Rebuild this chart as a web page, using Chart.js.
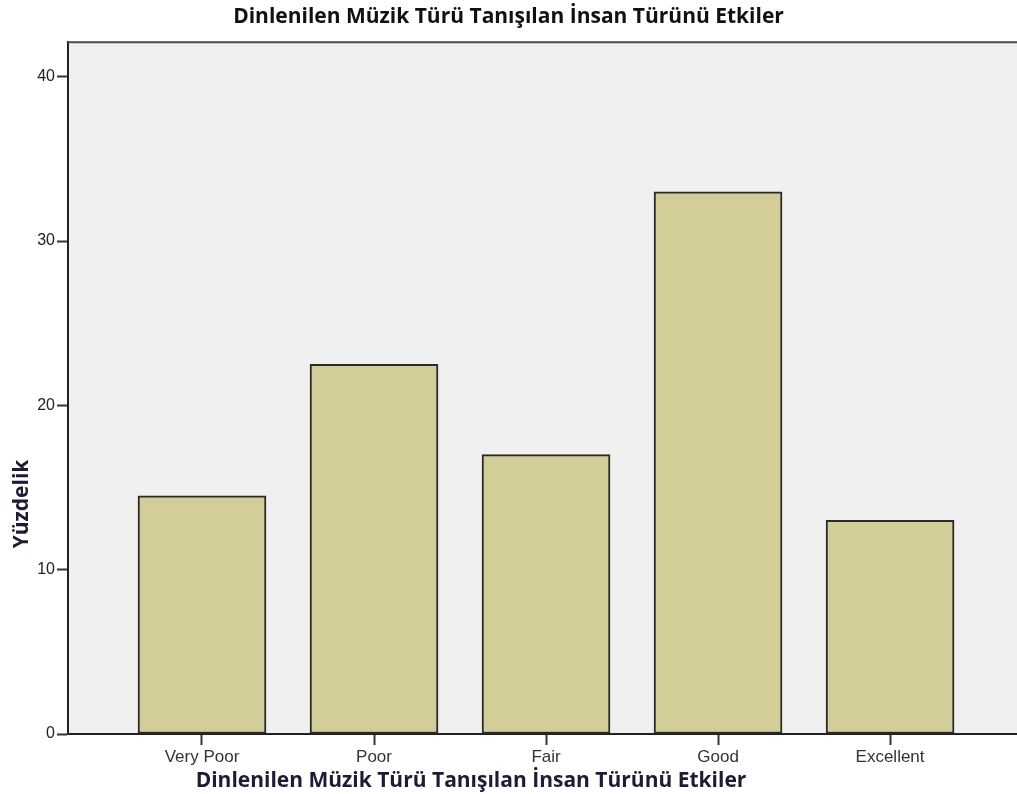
<!DOCTYPE html>
<html>
<head>
<meta charset="utf-8">
<script src="https://cdn.jsdelivr.net/npm/chart.js@4"></script>
<style>
	html, body { margin: 0; padding: 0; background: #ffffff; }
	#wrap { width: 1017px; height: 794px; }
</style>
</head>
<body>
<div id="wrap"><canvas id="chart" width="1017" height="794"></canvas></div>
<script>
var categories = ["Very Poor", "Poor", "Fair", "Good", "Excellent"];
var percents = [14.5, 22.5, 17.0, 33.0, 13.0];
var yTicks = [0, 10, 20, 30, 40];
var chartTitle = "Dinlenilen Müzik Türü Tanışılan İnsan Türünü Etkiler";
var xTitle = "Dinlenilen Müzik Türü Tanışılan İnsan Türünü Etkiler";
var yTitle = "Yüzdelik";

var titleFont = "bold 21px 'Open Sans'";
var titleColor = "#1b1b3a";

// plot background, top frame line and the two axis titles
var frame = {
	id: "frame",
	beforeDraw: function (chart) {
		var a = chart.chartArea;
		var ctx = chart.ctx;
		ctx.save();
		ctx.fillStyle = "#f0f0f0";
		ctx.fillRect(a.left, a.top, a.right - a.left, a.bottom - a.top);
		ctx.restore();
	},
	afterDraw: function (chart) {
		var a = chart.chartArea;
		var ctx = chart.ctx;
		ctx.save();
		ctx.strokeStyle = "#4a4a4a";
		ctx.lineWidth = 2;
		ctx.beginPath();
		ctx.moveTo(a.left, a.top);
		ctx.lineTo(a.right, a.top);
		ctx.stroke();

		ctx.font = titleFont;
		ctx.fillStyle = titleColor;
		ctx.textAlign = "center";
		ctx.textBaseline = "alphabetic";
		ctx.fillText(xTitle, 471, 787);

		ctx.translate(28, 504);
		ctx.rotate(-Math.PI / 2);
		ctx.fillText(yTitle, 0, 0);
		ctx.restore();
	}
};

var points = percents.map(function (v, i) {
	return { x: i + 1, y: v };
});

var ctx = document.getElementById("chart").getContext("2d");
new Chart(ctx, {
	type: "bar",
	data: {
		datasets: [
			{
				data: points,
				backgroundColor: "#d3ce97",
				borderColor: "#2a2a2a",
				borderWidth: 2,
				borderSkipped: false,
				barThickness: 128,
			},
		],
	},
	options: {
		responsive: false,
		animation: false,
		layout: { padding: 0 },
		plugins: {
			legend: { display: false },
			tooltip: { enabled: false },
			title: {
				display: true,
				text: chartTitle,
				color: "#111111",
				font: { family: "Open Sans", size: 21, weight: "bold" },
				padding: { top: 4, bottom: 13 },
			},
		},
		scales: {
			x: {
				type: "linear",
				offset: false,
				min: 0.221,
				max: 5.738,
				afterFit: function (scale) {
					scale.height = 60;
				},
				afterBuildTicks: function (scale) {
					scale.ticks = categories.map(function (c, i) {
						return { value: i + 1 };
					});
				},
				ticks: {
					autoSkip: false,
					maxRotation: 0,
					padding: 2,
					color: "#333333",
					font: { family: "Liberation Sans", size: 17 },
					callback: function (v) {
						return categories[v - 1];
					},
				},
				grid: { offset: false, drawOnChartArea: false, tickLength: 11, tickWidth: 2, tickColor: "#333333" },
				border: { color: "#222222", width: 2 },
			},
			y: {
				min: 0,
				max: 42.1,
				afterFit: function (scale) {
					scale.width = 68;
				},
				afterBuildTicks: function (scale) {
					scale.ticks = yTicks.map(function (v) {
						return { value: v };
					});
				},
				ticks: {
					padding: 2,
					color: "#222222",
					font: { family: "Liberation Sans", size: 16 },
				},
				grid: { drawOnChartArea: false, tickLength: 11, tickWidth: 2, tickColor: "#333333" },
				border: { color: "#222222", width: 2 },
			},
		},
	},
	plugins: [frame],
});
</script>
</body>
</html>
